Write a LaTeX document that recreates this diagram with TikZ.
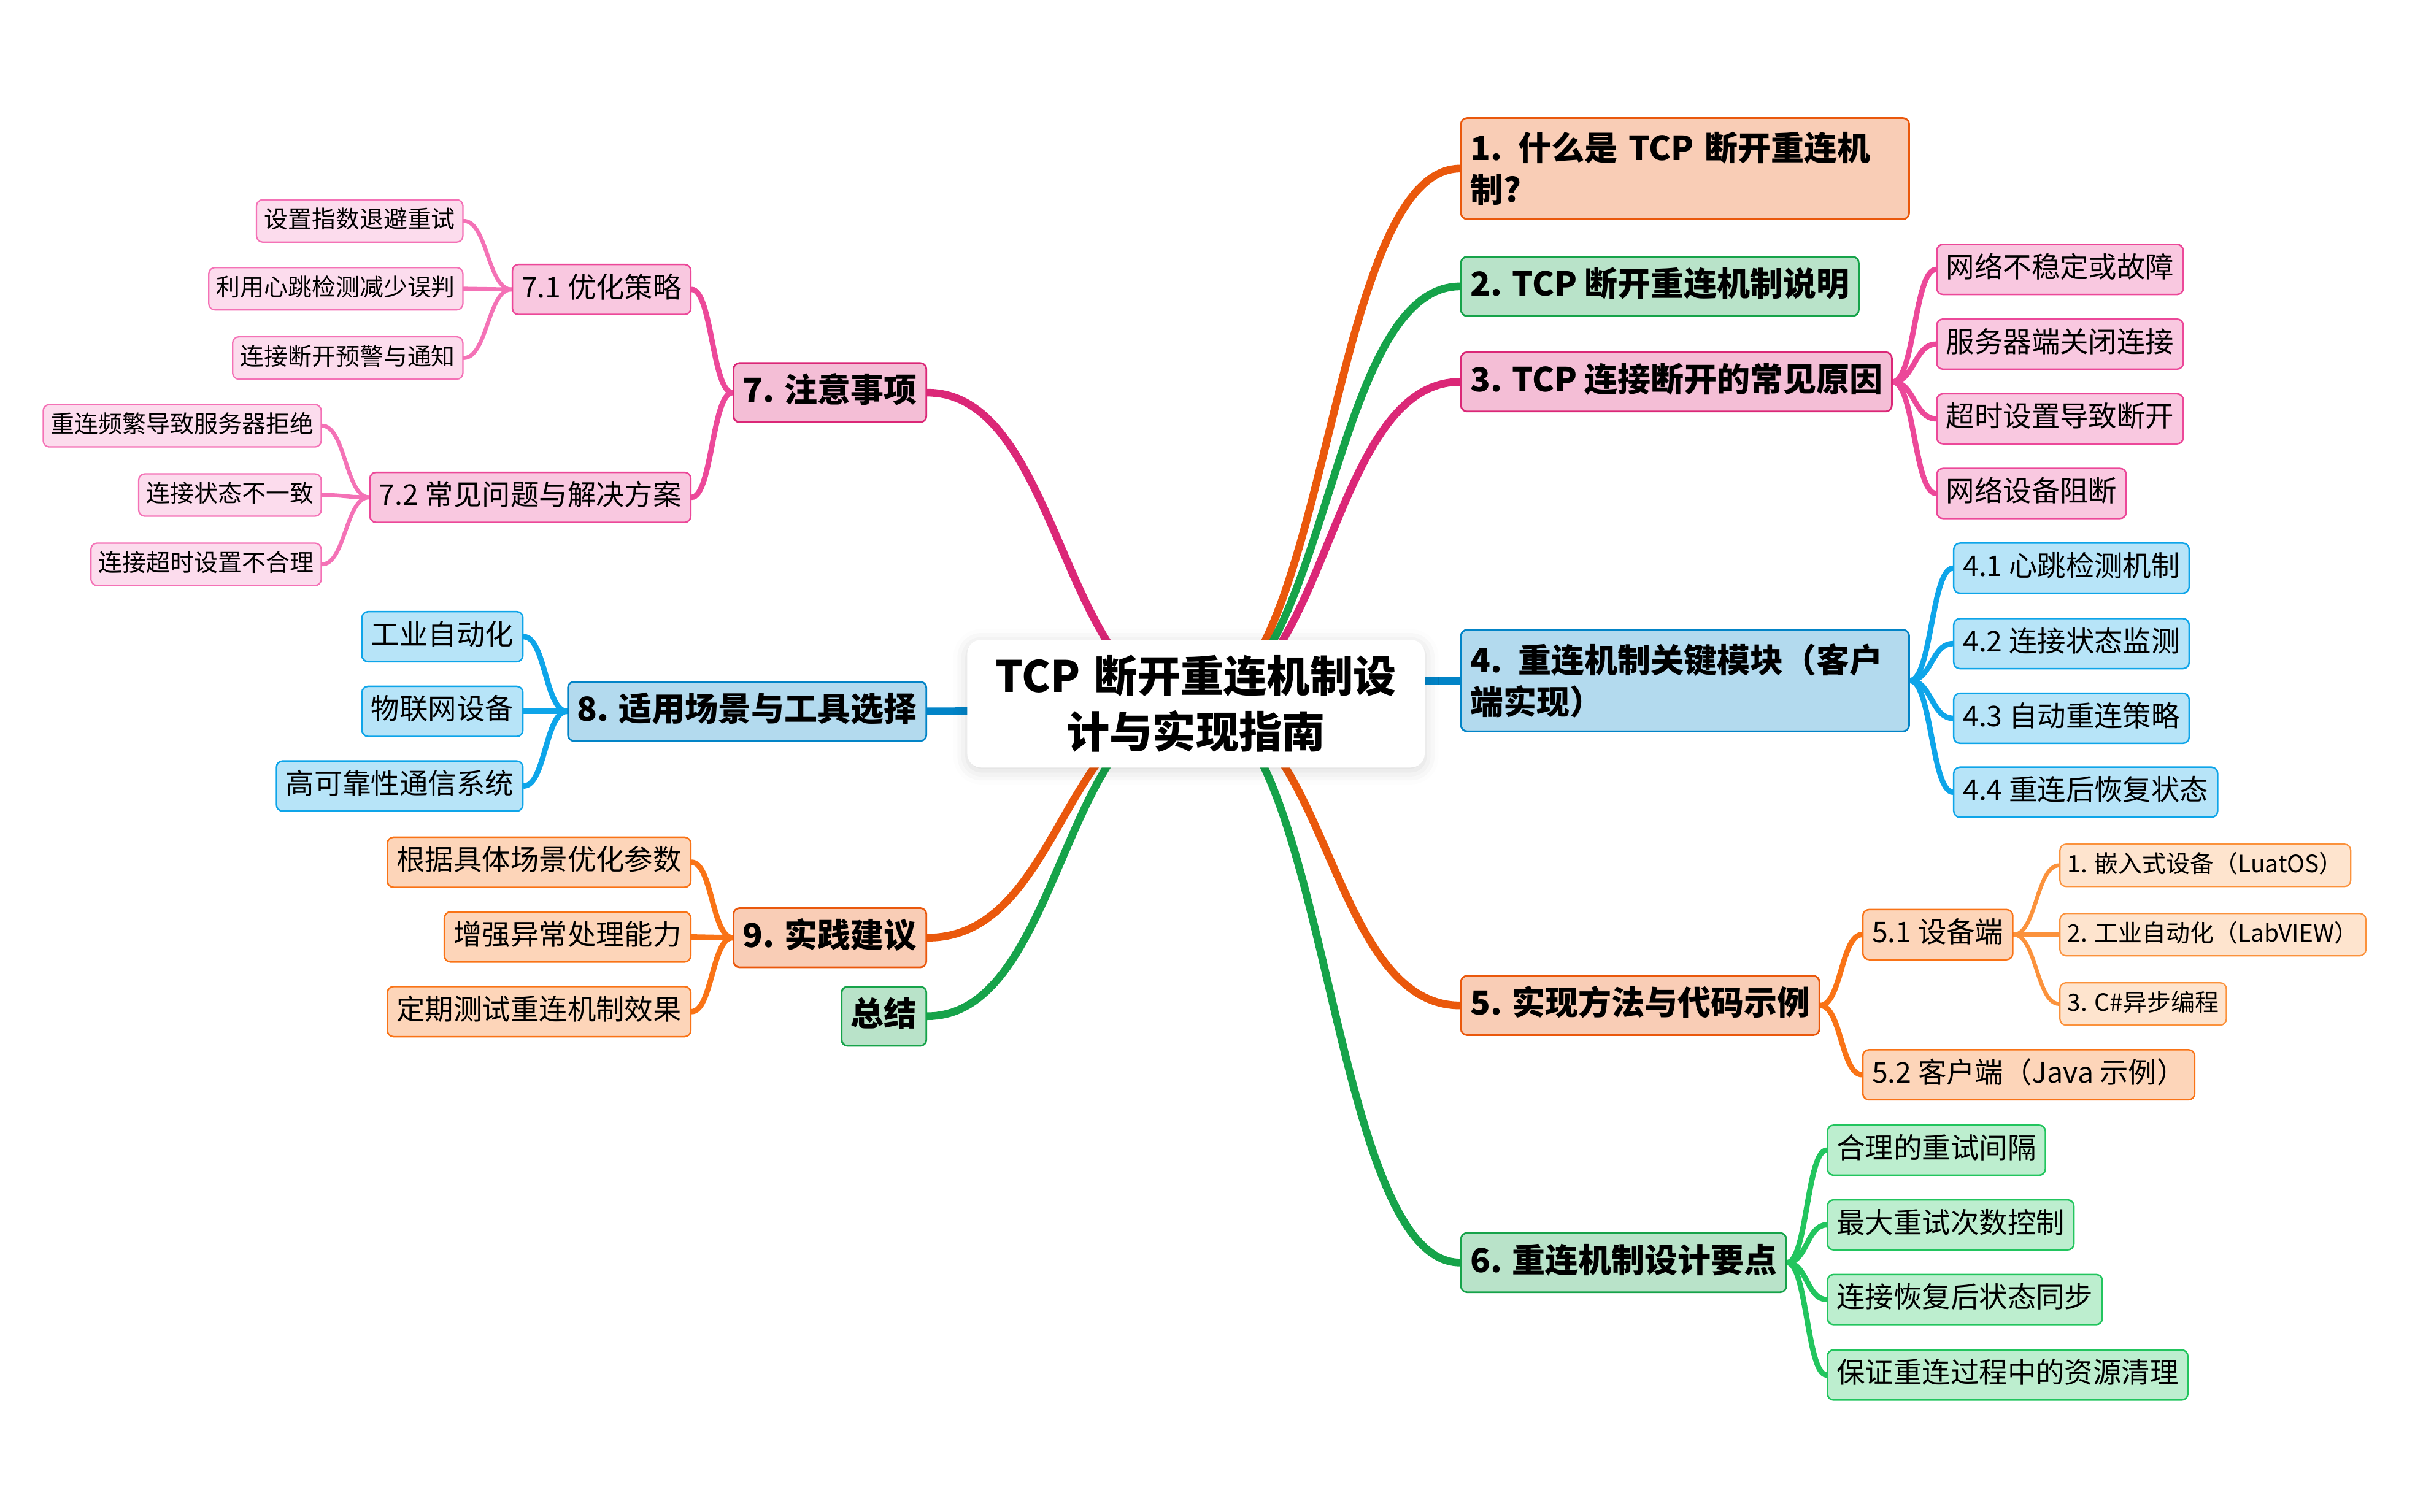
\documentclass[tikz,border=0pt]{standalone}
\usepackage{fontspec}
\setmainfont{Noto Sans CJK SC}
\usetikzlibrary{calc,backgrounds,shadows.blur}

\definecolor{orangeA}{HTML}{EA580C}
\definecolor{greenA}{HTML}{16A34A}
\definecolor{pinkA}{HTML}{DB2777}
\definecolor{blueA}{HTML}{0284C7}
\definecolor{orangeB}{HTML}{F97316}
\definecolor{greenB}{HTML}{22C55E}
\definecolor{pinkB}{HTML}{EC4899}
\definecolor{blueB}{HTML}{0EA5E9}
\definecolor{orangeC}{HTML}{FB923C}
\definecolor{pinkC}{HTML}{F472B6}

\begin{document}
\begin{tikzpicture}[x=1pt,y=-1pt,
    boxbase/.style={draw, rounded corners=4pt, inner xsep=6pt},
    rootbox/.style={fill=white, rounded corners=9pt, text width=277pt, align=center,
        inner xsep=10pt, inner ysep=10pt, font=\bfseries\fontsize{28}{36}\selectfont,
        blur shadow={shadow xshift=0pt, shadow yshift=-2pt, shadow blur radius=9pt, shadow opacity=15}},
    topicbase/.style={boxbase, draw=#1, fill=#1!30!white, line width=1.1pt,
        font=\bfseries\fontsize{21.5}{27}\selectfont, inner ysep=8.5pt},
    topic/.style={topicbase=#1, text height=17pt, text depth=4.5pt},
    topicwide/.style={topicbase=#1, text width=279pt, align=left, inner ysep=9pt},
    subtopic/.style={boxbase, draw=#1, fill=#1!30!white, line width=1pt,
        font=\fontsize{18.5}{22}\selectfont, inner ysep=7pt, text height=14.5pt, text depth=4pt},
    leafbox/.style={boxbase, draw=#1, fill=#1!25!white, line width=0.9pt,
        font=\fontsize{15.5}{18}\selectfont, inner xsep=5pt, inner ysep=6pt, text height=12.3pt, text depth=3.2pt},
    branch/.style={line cap=round, to path={let \p1=(\tikztostart), \p2=(\tikztotarget) in
        .. controls ({0.5*\x1+0.5*\x2},\y1) and ({0.5*\x1+0.5*\x2},\y2) .. (\tikztotarget)}},
    trunk/.style={branch, draw=#1, line width=5pt},
    twig/.style={branch, draw=#1, line width=3.5pt},
    sprig/.style={branch, draw=#1, line width=2.6pt}]
    \useasboundingbox (0,-2) rectangle (1568,979.6);

    % root
    \node[rootbox] (ctr) at (776.5,455) {TCP 断开重连机制设\\计与实现指南};

    % right topics
    \node[topicwide=orangeA, anchor=west] (t1) at (948,107.5) {1. 什么是 TCP 断开重连机\\制?};
    \node[topic=greenA, anchor=west] (t2) at (948,184) {2. TCP 断开重连机制说明};
    \node[topic=pinkA, anchor=west] (t3) at (948,246) {3. TCP 连接断开的常见原因};
    \node[topicwide=blueA, anchor=west] (t4) at (948,440) {4. 重连机制关键模块（客户\\端实现）};
    \node[topic=orangeA, anchor=west] (t5) at (948,651) {5. 实现方法与代码示例};
    \node[topic=greenA, anchor=west] (t6) at (948,818) {6. 重连机制设计要点};

    % left topics
    \node[topic=pinkA, anchor=east] (t7) at (602,253) {7. 注意事项};
    \node[topic=blueA, anchor=east] (t8) at (602,460) {8. 适用场景与工具选择};
    \node[topic=orangeA, anchor=east] (t9) at (602,607) {9. 实践建议};
    \node[topic=greenA, anchor=east] (t10) at (602,658) {总结};

    % 3
    \node[subtopic=pinkB, anchor=west] (s31) at (1257,173) {网络不稳定或故障};
    \node[subtopic=pinkB, anchor=west] (s32) at (1257,221.5) {服务器端关闭连接};
    \node[subtopic=pinkB, anchor=west] (s33) at (1257,270) {超时设置导致断开};
    \node[subtopic=pinkB, anchor=west] (s34) at (1257,318.5) {网络设备阻断};

    % 4
    \node[subtopic=blueB, anchor=west] (s41) at (1268,367) {4.1 心跳检测机制};
    \node[subtopic=blueB, anchor=west] (s42) at (1268,416) {4.2 连接状态监测};
    \node[subtopic=blueB, anchor=west] (s43) at (1268,464.5) {4.3 自动重连策略};
    \node[subtopic=blueB, anchor=west] (s44) at (1268,512.5) {4.4 重连后恢复状态};

    % 5
    \node[subtopic=orangeB, anchor=west] (s51) at (1209,605) {5.1 设备端};
    \node[subtopic=orangeB, anchor=west] (s52) at (1209,696) {5.2 客户端（Java 示例）};
    \node[leafbox=orangeC, anchor=west] (l511) at (1337,560) {1. 嵌入式设备（LuatOS）};
    \node[leafbox=orangeC, anchor=west] (l512) at (1337,605) {2. 工业自动化（LabVIEW）};
    \node[leafbox=orangeC, anchor=west] (l513) at (1337,650) {3. C\#异步编程};

    % 6
    \node[subtopic=greenB, anchor=west] (s61) at (1186,745) {合理的重试间隔};
    \node[subtopic=greenB, anchor=west] (s62) at (1186,793.5) {最大重试次数控制};
    \node[subtopic=greenB, anchor=west] (s63) at (1186,842) {连接恢复后状态同步};
    \node[subtopic=greenB, anchor=west] (s64) at (1186,891) {保证重连过程中的资源清理};

    % 7
    \node[subtopic=pinkB, anchor=east] (s71) at (449,186) {7.1 优化策略};
    \node[subtopic=pinkB, anchor=east] (s72) at (449,321) {7.2 常见问题与解决方案};
    \node[leafbox=pinkC, anchor=east] (l711) at (301,141.5) {设置指数退避重试};
    \node[leafbox=pinkC, anchor=east] (l712) at (301,185.5) {利用心跳检测减少误判};
    \node[leafbox=pinkC, anchor=east] (l713) at (301,230.5) {连接断开预警与通知};
    \node[leafbox=pinkC, anchor=east] (l721) at (209,274.5) {重连频繁导致服务器拒绝};
    \node[leafbox=pinkC, anchor=east] (l722) at (209,319.5) {连接状态不一致};
    \node[leafbox=pinkC, anchor=east] (l723) at (209,364.5) {连接超时设置不合理};

    % 8
    \node[subtopic=blueB, anchor=east] (s81) at (340,411.5) {工业自动化};
    \node[subtopic=blueB, anchor=east] (s82) at (340,460) {物联网设备};
    \node[subtopic=blueB, anchor=east] (s83) at (340,508.5) {高可靠性通信系统};

    % 9
    \node[subtopic=orangeB, anchor=east] (s91) at (449,558) {根据具体场景优化参数};
    \node[subtopic=orangeB, anchor=east] (s92) at (449,606.5) {增强异常处理能力};
    \node[subtopic=orangeB, anchor=east] (s93) at (449,655) {定期测试重连机制效果};

    \begin{scope}[on background layer]
    \draw[trunk=orangeA] (ctr.center) to (t1.west);
    \draw[trunk=greenA] (ctr.center) to (t2.west);
    \draw[trunk=pinkA] (ctr.center) to (t3.west);
    \draw[trunk=blueA] (ctr.center) to (t4.west);
    \draw[trunk=orangeA] (ctr.center) to (t5.west);
    \draw[trunk=greenA] (ctr.center) to (t6.west);
    \draw[trunk=pinkA] (ctr.center) to (t7.east);
    \draw[trunk=blueA] (ctr.center) to (t8.east);
    \draw[trunk=orangeA] (ctr.center) to (t9.east);
    \draw[trunk=greenA] (ctr.center) to (t10.east);

    \draw[twig=pinkB] (t3.east) to (s31.west);
    \draw[twig=pinkB] (t3.east) to (s32.west);
    \draw[twig=pinkB] (t3.east) to (s33.west);
    \draw[twig=pinkB] (t3.east) to (s34.west);
    \draw[twig=blueB] (t4.east) to (s41.west);
    \draw[twig=blueB] (t4.east) to (s42.west);
    \draw[twig=blueB] (t4.east) to (s43.west);
    \draw[twig=blueB] (t4.east) to (s44.west);
    \draw[twig=orangeB] (t5.east) to (s51.west);
    \draw[twig=orangeB] (t5.east) to (s52.west);
    \draw[sprig=orangeC] (s51.east) to (l511.west);
    \draw[sprig=orangeC] (s51.east) to (l512.west);
    \draw[sprig=orangeC] (s51.east) to (l513.west);
    \draw[twig=greenB] (t6.east) to (s61.west);
    \draw[twig=greenB] (t6.east) to (s62.west);
    \draw[twig=greenB] (t6.east) to (s63.west);
    \draw[twig=greenB] (t6.east) to (s64.west);

    \draw[twig=pinkB] (t7.west) to (s71.east);
    \draw[twig=pinkB] (t7.west) to (s72.east);
    \draw[sprig=pinkC] (s71.west) to (l711.east);
    \draw[sprig=pinkC] (s71.west) to (l712.east);
    \draw[sprig=pinkC] (s71.west) to (l713.east);
    \draw[sprig=pinkC] (s72.west) to (l721.east);
    \draw[sprig=pinkC] (s72.west) to (l722.east);
    \draw[sprig=pinkC] (s72.west) to (l723.east);
    \draw[twig=blueB] (t8.west) to (s81.east);
    \draw[twig=blueB] (t8.west) to (s82.east);
    \draw[twig=blueB] (t8.west) to (s83.east);
    \draw[twig=orangeB] (t9.west) to (s91.east);
    \draw[twig=orangeB] (t9.west) to (s92.east);
    \draw[twig=orangeB] (t9.west) to (s93.east);
    \end{scope}
\end{tikzpicture}
\end{document}
